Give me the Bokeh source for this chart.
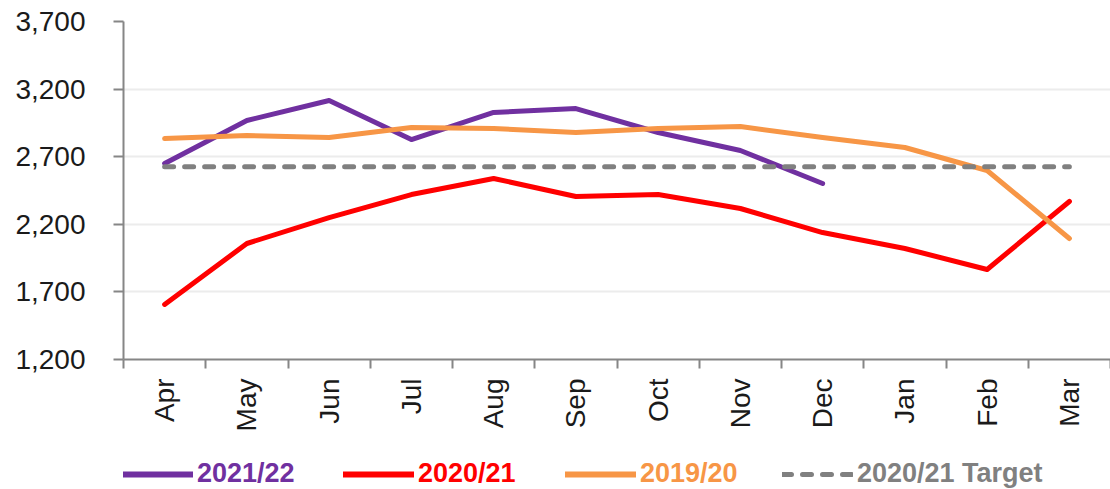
import math
from bokeh.plotting import figure
from bokeh.layouts import column
from bokeh.models import (ColumnDataSource, FactorRange, Range1d, FixedTicker, LinearAxis,
                          CategoricalAxis, Legend, LegendItem, NumeralTickFormatter)
from bokeh.embed import file_html
from bokeh.resources import INLINE

months = ["Apr", "May", "Jun", "Jul", "Aug", "Sep", "Oct", "Nov", "Dec", "Jan", "Feb", "Mar"]
fy2021_22 = [2650, 2968, 3116, 2827, 3027, 3056, 2879, 2746, 2502]
fy2020_21 = [1607, 2058, 2250, 2420, 2539, 2406, 2420, 2317, 2139, 2021, 1866, 2369]
fy2019_20 = [2834, 2857, 2842, 2916, 2908, 2879, 2908, 2923, 2842, 2768, 2598, 2095]
target_2020_21 = [2625, 2625, 2625, 2625, 2625, 2625, 2625, 2625, 2625, 2625, 2625, 2625]
y_ticks = [1200, 1700, 2200, 2700, 3200, 3700]

series_names = ["2021/22", "2020/21", "2019/20", "2020/21 Target"]
colors = ["#7030A0", "#FF0000", "#F79646", "#808080"]

FONT = "Liberation Sans"
AXIS_GRAY = "#868686"
TEXT_COLOR = "#1a1a1a"
FRAME_LEFT = 123

p = figure(width=1110, height=445,
           x_range=FactorRange(*months, range_padding=0),
           y_range=Range1d(y_ticks[0], y_ticks[-1]),
           x_axis_location=None,
           output_backend="svg", toolbar_location=None,
           min_border_left=FRAME_LEFT, min_border_right=0,
           min_border_top=21, min_border_bottom=86)
p.outline_line_color = None
p.background_fill_color = "white"
p.border_fill_color = "white"

# y axis
p.yaxis.ticker = FixedTicker(ticks=y_ticks)
p.yaxis.formatter = NumeralTickFormatter(format="0,0")
p.yaxis.axis_line_color = AXIS_GRAY
p.yaxis.axis_line_width = 2
p.yaxis.major_tick_line_color = AXIS_GRAY
p.yaxis.major_tick_line_width = 2
p.yaxis.major_tick_out = 10
p.yaxis.major_tick_in = 0
p.yaxis.minor_tick_line_color = None
p.yaxis.major_label_text_font = FONT
p.yaxis.major_label_text_font_size = "28px"
p.yaxis.major_label_text_color = TEXT_COLOR
p.yaxis.major_label_standoff = 28

p.xgrid.visible = False
p.ygrid.ticker = FixedTicker(ticks=y_ticks)
p.ygrid.grid_line_color = "#ececec"
p.ygrid.grid_line_width = 2

# x axis: ticks at category boundaries (synthetic coordinates), then category labels
edge_ticks = list(range(len(months) + 1))
edge_axis = LinearAxis(ticker=FixedTicker(ticks=edge_ticks),
                       major_label_overrides={t: "" for t in edge_ticks},
                       major_label_text_font_size="1px", major_label_standoff=0,
                       major_tick_out=9, major_tick_in=0,
                       minor_tick_line_color=None,
                       axis_line_color=AXIS_GRAY, axis_line_width=2,
                       major_tick_line_color=AXIS_GRAY, major_tick_line_width=2)
p.add_layout(edge_axis, "below")
cat_axis = CategoricalAxis(axis_line_color=None, major_tick_line_color=None,
                           major_tick_out=0, major_tick_in=0,
                           major_label_orientation=math.pi / 2,
                           major_label_text_font=FONT,
                           major_label_text_font_size="28px",
                           major_label_text_color=TEXT_COLOR,
                           major_label_standoff=10)
p.add_layout(cat_axis, "below")

series_data = [fy2021_22, fy2020_21, fy2019_20, target_2020_21]
for name, vals, col in zip(series_names, series_data, colors):
    src = ColumnDataSource(dict(x=months[:len(vals)], y=vals))
    if name.endswith("Target"):
        p.line("x", "y", source=src, line_color=col, line_width=5,
               line_dash="9 11", line_cap="round")
    else:
        p.line("x", "y", source=src, line_color=col, line_width=5,
               line_join="round", line_cap="round")

# legend strip below the chart (one legend per series, to colour each label)
lf = figure(width=1110, height=44, x_range=Range1d(0, 1), y_range=Range1d(0, 1),
            x_axis_location=None, y_axis_location=None,
            output_backend="svg", toolbar_location=None, min_border=0)
lf.outline_line_color = None
lf.grid.visible = False
nan = float("nan")
legend_x = [122, 343, 565, 782]
for name, col, lx in zip(series_names, colors, legend_x):
    if name.endswith("Target"):
        dummy = lf.line(x=[nan], y=[nan], line_color=col, line_width=5,
                        line_dash="9 11", line_cap="round")
    else:
        dummy = lf.line(x=[nan], y=[nan], line_color=col, line_width=6, line_cap="round")
    lg = Legend(items=[LegendItem(label=name, renderers=[dummy])],
                location=(lx - FRAME_LEFT, 0), orientation="horizontal",
                glyph_width=71, glyph_height=30, label_height=30,
                label_standoff=4, padding=0, margin=0, spacing=0,
                border_line_alpha=0, background_fill_alpha=0,
                label_text_font=FONT, label_text_font_size="27px",
                label_text_font_style="bold", label_text_color=col)
    lf.add_layout(lg, "center")

layout = column(p, lf, spacing=0)
open("out.html", "w").write(file_html(layout, INLINE))
